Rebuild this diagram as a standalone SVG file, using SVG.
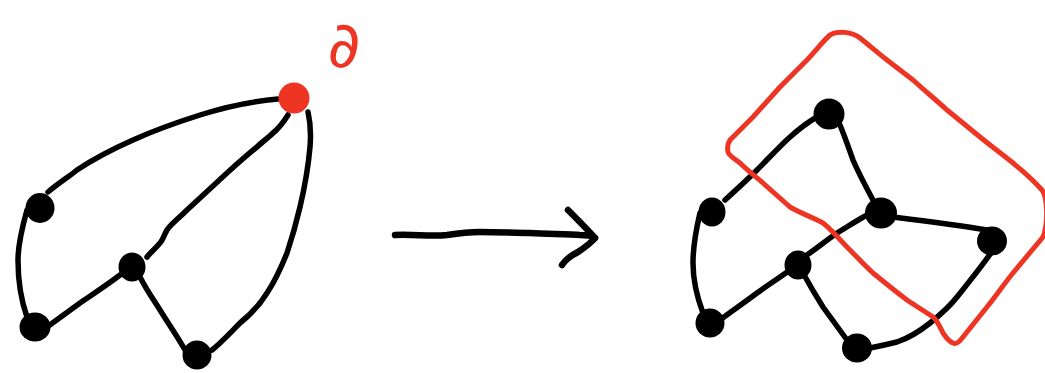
<svg xmlns="http://www.w3.org/2000/svg" width="1045" height="373" viewBox="0 0 1045 373">
<style>
.e{fill:none;stroke:#000;stroke-width:5.5;stroke-linecap:round;stroke-linejoin:round}
.n{fill:#000}
.r{fill:none;stroke:#EE3524;stroke-width:5;stroke-linecap:round;stroke-linejoin:round}
.lbl{font-family:"DejaVu Sans",sans-serif;font-size:64px;fill:#EE3524}
</style>
<rect width="1045" height="373" fill="#fff"/>
<g id="connectors">
<path class="e" d="M48,192 C60,182 70,176 77,170 C95,158 115,148 133,140 C155,130 178,122 200,115 C225,107 255,101 278,99"/>
<path class="e" d="M288,115 C283,123 278,129 273,133 C268,138 262,142 257,147 C247,155 237,164 227,173 C213,186 200,198 187,210 C178,219 170,225 167,230 C163,237 163,240 160,243 C155,249 150,253 147,257"/>
<path class="e" d="M308,112 C311,125 311,135 310,147 C308,170 304,190 300,207 C296,224 292,238 287,253 C281,268 275,281 267,293 C259,306 250,315 240,323 C230,333 221,343 212,350"/>
<path class="e" d="M27,210 C22,228 18,245 18,260 C18,282 21,300 27,317"/>
<path class="e" d="M47,327 C58,319 69,311 80,303 C93,294 107,285 120,275"/>
<path class="e" d="M140,277 C146,289 153,299 160,310 C168,323 177,336 185,350"/>
<path class="e" style="stroke-width:6.5" d="M395,235 C415,234 430,237 447,235 C460,233 470,232 480,232 C500,232 515,233 530,233 C550,234 570,234 580,235 C588,235 592,236 595,238"/>
<path class="e" style="stroke-width:6.5" d="M568,210 C578,220 588,230 595,238 C590,244 584,248 578,252 C570,256 565,260 562,265"/>
<path class="e" d="M725,200 C736,190 747,180 757,170 C768,159 779,147 790,137 C799,129 808,122 817,117"/>
<path class="e" d="M840,125 C845,137 849,149 853,160 C859,174 866,187 873,200"/>
<path class="e" d="M893,217 C925,221 957,225 987,230"/>
<path class="e" d="M867,215 C856,221 847,227 837,233 C827,240 817,248 807,255"/>
<path class="e" d="M700,213 C696,230 693,247 693,263 C693,280 697,297 703,313"/>
<path class="e" d="M720,320 C732,311 745,302 757,293 C768,285 779,278 790,270"/>
<path class="e" d="M803,273 C809,284 816,296 823,307 C831,318 839,329 847,340"/>
<path class="e" d="M870,348 C880,346 889,344 897,342 C909,338 920,331 930,323 C940,315 950,306 957,297 C969,282 982,266 993,250"/>
</g>
<g id="node-boundary"><circle cx="294" cy="98" r="15.5" fill="#EE3524"/></g>
<g id="node-a"><ellipse class="n" cx="40" cy="208" rx="14.5" ry="15"/></g>
<g id="node-b"><ellipse class="n" cx="35" cy="327" rx="15.5" ry="14.5"/></g>
<g id="node-c"><ellipse class="n" cx="132" cy="267" rx="13.5" ry="14.5"/></g>
<g id="node-d"><ellipse class="n" cx="197" cy="355" rx="14.5" ry="14.5"/></g>
<g id="label-partial"><text class="lbl" x="344" y="67" text-anchor="middle">∂</text></g>
<g id="node-e"><ellipse class="n" cx="829" cy="114" rx="15.5" ry="15.5"/></g>
<g id="node-f"><ellipse class="n" cx="712" cy="212" rx="13.5" ry="14.5"/></g>
<g id="node-g"><ellipse class="n" cx="881" cy="213" rx="16" ry="15.5"/></g>
<g id="node-h"><ellipse class="n" cx="992" cy="241" rx="15" ry="14.5"/></g>
<g id="node-i"><ellipse class="n" cx="798" cy="265" rx="13.5" ry="14.5"/></g>
<g id="node-j"><ellipse class="n" cx="710" cy="323" rx="14.5" ry="14.5"/></g>
<g id="node-k"><ellipse class="n" cx="857" cy="348" rx="15" ry="14.5"/></g>
<g id="boundary-region">
<path class="r" d="M830,35 C838,30 852,32 860,38 C870,46 878,53 887,60 C896,67 904,73 913,80 C924,90 936,100 947,110 C958,119 969,128 980,137 C991,146 1002,154 1013,163 C1024,172 1034,181 1042,190 C1048,198 1048,225 1043,237 C1033,249 1023,261 1013,273 C1004,284 996,296 987,307 C979,317 971,327 963,337 C960,341 956,345 953,343 C948,341 946,337 943,333 C940,327 937,320 933,317 C924,311 916,306 907,300 C895,291 884,282 873,273 C864,265 856,256 847,247 C839,239 832,230 823,223 C812,217 800,213 790,207 C781,199 772,191 763,183 C755,176 747,170 740,163 C734,158 729,156 728,152 C727,147 728,143 730,140 C738,132 745,125 753,117 C762,107 771,97 780,87 C789,78 798,69 807,60 C815,52 822,42 830,35 Z"/>
</g>
</svg>
